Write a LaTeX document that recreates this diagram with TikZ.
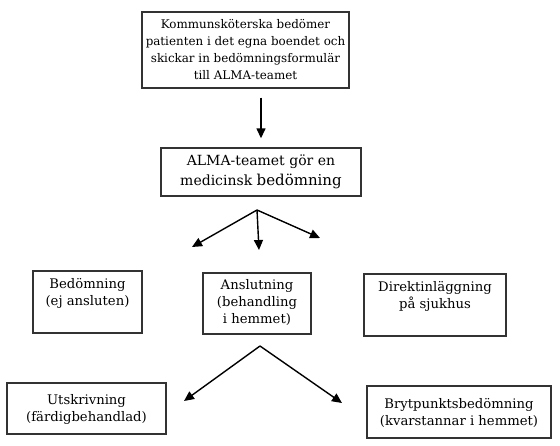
\documentclass[tikz,border=0pt]{standalone}
\usepackage{fontspec}
\setmainfont{DejaVu Serif}
\usetikzlibrary{arrows.meta}
\begin{document}
\begin{tikzpicture}[x=1pt,y=-1pt,
  box/.style={draw=black!80, line width=1.4pt, align=center, inner sep=0pt,
    font=\fontsize{13.2}{17}\selectfont},
  arr/.style={draw=black, line width=1.4pt, -{Triangle[length=10pt,width=9pt]}}]
\useasboundingbox (0,0) rectangle (560,445);
\node[box, minimum width=207pt, minimum height=76pt, font=\fontsize{11.9}{17}\selectfont] (top) at (245.5,50)
  {Kommunsköterska bedömer\\patienten i det egna boendet och\\skickar in bedömningsformulär\\till ALMA-teamet};
\node[box, minimum width=200pt, minimum height=48pt, font=\fontsize{14}{19.5}\selectfont] (alma) at (261,172)
  {ALMA-teamet gör en\\medicinsk {\fontsize{15}{19.5}\selectfont bedömning}};
\node[box, minimum width=109pt, minimum height=62pt, text depth=20pt] (bed) at (87.5,302)
  {Bedömning\\(ej ansluten)};
\node[box, minimum width=108pt, minimum height=61pt, text depth=5pt] (ans) at (257,303.5)
  {Anslutning\\(behandling\\i hemmet)};
\node[box, minimum width=142pt, minimum height=62pt, text depth=20pt] (dir) at (435,305)
  {Direktinläggning\\på sjukhus};
\node[box, minimum width=159pt, minimum height=51pt, text depth=1pt] (uts) at (86.5,408.5)
  {Utskrivning\\(färdigbehandlad)};
\node[box, minimum width=184pt, minimum height=52pt, text depth=1pt] (bry) at (459,412)
  {Brytpunktsbedömning\\(kvarstannar i hemmet)};
% connectors
\draw[arr, shorten <=9pt, shorten >=9pt] (top.south -| alma.north) -- (alma.north);
\coordinate (f1) at (257,210);
\coordinate (t1) at (192,247);
\coordinate (t2) at (259,250);
\coordinate (t3) at (320,238);
\draw[arr] (f1) -- (t1);
\draw[arr] (f1) -- (t2);
\draw[arr] (f1) -- (t3);
\coordinate (f2) at (260,346);
\coordinate (u1) at (184,401);
\coordinate (u2) at (342,403);
\draw[arr] (f2) -- (u1);
\draw[arr] (f2) -- (u2);
\end{tikzpicture}
\end{document}
